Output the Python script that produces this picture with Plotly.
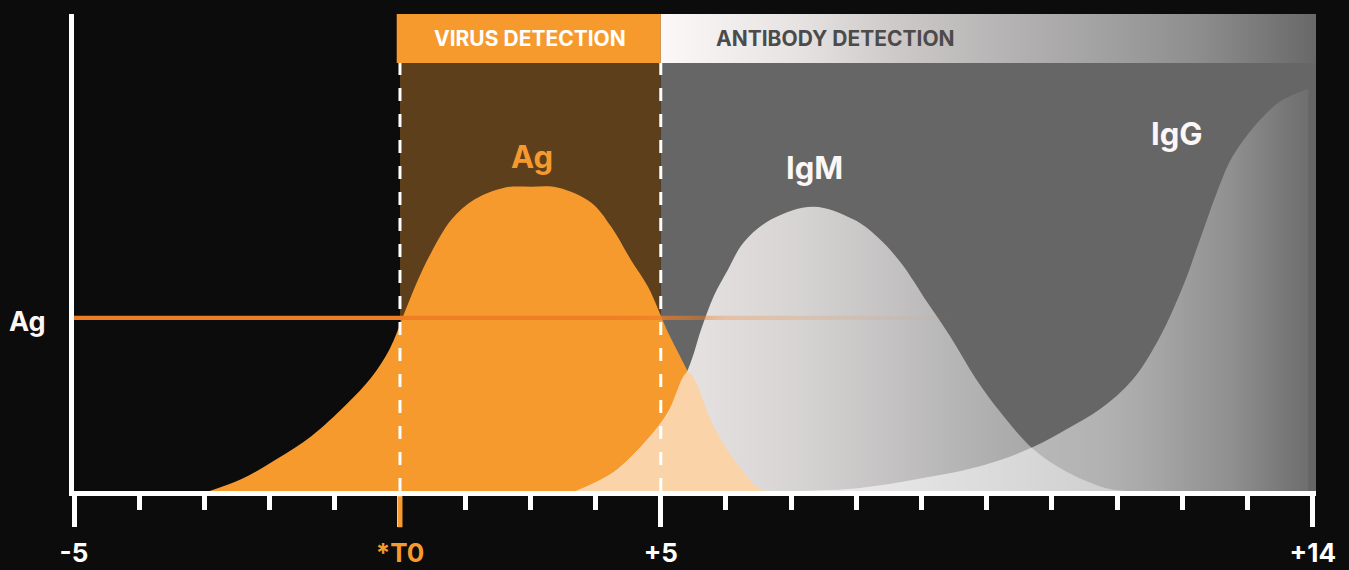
import numpy as np
import plotly.graph_objects as go

# ---------------- data ----------------
tick_vals = [0, 5, 9, 19]
tick_text = ["-5", "*T0", "+5", "+14"]
minor_step = 1

# Ag (antigen) curve
ag_x = [2.08, 2.57, 3.11, 3.64, 4.18, 4.56, 4.84, 5.07, 5.28, 5.48, 5.79, 6.14, 6.60,
        7.01, 7.43, 7.93, 8.24, 8.54, 8.80, 9.11, 9.42, 9.81, 10.12, 10.53, 10.81]
ag_y = [0, 2.5, 6.7, 11.5, 18.2, 23.8, 29.7, 37.4, 44.4, 50.0, 56.9, 61.1, 63.6,
        63.8, 63.6, 60.5, 55.4, 48.5, 42.9, 33.3, 24.9, 13.6, 6.7, 0.4, 0]

# IgM curve
igm_x = [7.70, 8.28, 8.80, 9.11, 9.46, 9.62, 9.81, 10.03, 10.27, 10.69, 11.34, 11.96,
         12.32, 12.68, 13.09, 13.44, 13.84, 14.21, 14.71, 15.23, 15.89, 16.27]
igm_y = [0, 4.0, 10.9, 16.5, 27.0, 33.9, 40.8, 46.4, 52.1, 56.9, 59.6, 56.9,
         53.3, 47.9, 39.5, 32.4, 23.4, 16.5, 8.8, 4.0, 0.4, 0]

# IgG curve
igg_x = [10.99, 12.02, 12.94, 13.95, 14.71, 15.23, 15.74, 16.24, 16.66, 17.01, 17.27,
         17.53, 17.77, 18.19, 18.54, 18.93]
igg_y = [0, 0.6, 2.5, 5.4, 9.2, 13.0, 17.2, 23.4, 32.4, 42.9, 52.7,
         62.6, 70.1, 77.8, 82.0, 84.3]

phase_x = [5, 9, 19.05]        # virus detection start, antibody detection start, end
header_y = [89.75, 100]         # header band
ag_cutoff_y = 36.3              # Ag detection threshold
ag_cutoff_x = [0, 13.6]

# ---------------- style ----------------
ORANGE = "#F79A2E"
LINE_OR = "238,125,36"
BROWN = "#5E3F1B"
GRAY = "#666666"
PEACH = "#FBD3A8"
BG = "#0c0c0c"
FONT = "Inter, Lato, sans-serif"
SPL = dict(width=0, shape="spline", smoothing=1.0)

fig = go.Figure()

# antibody header (gradient)
fig.add_trace(go.Scatter(
    x=[phase_x[1], phase_x[2], phase_x[2], phase_x[1]],
    y=[header_y[0], header_y[0], header_y[1], header_y[1]],
    mode="lines", line=dict(width=0), fill="toself",
    fillgradient=dict(type="horizontal", start=phase_x[1], stop=phase_x[2],
                      colorscale=[[0, "#fdf8f8"], [0.215, "#e6e2e2"], [0.367, "#ccc8c8"],
                                  [0.519, "#b6b4b4"], [0.671, "#a3a2a2"], [0.823, "#8d8d8d"],
                                  [0.915, "#7a7a7a"], [1, "#686868"]]),
    hoverinfo="skip", showlegend=False))

# Ag
fig.add_trace(go.Scatter(x=ag_x, y=ag_y, mode="lines", line=SPL,
                         fill="tozeroy", fillcolor=ORANGE, hoverinfo="skip", showlegend=False))

# IgM
fig.add_trace(go.Scatter(
    x=igm_x, y=igm_y, mode="lines", line=SPL,
    fill="tozeroy",
    fillgradient=dict(type="horizontal", start=igm_x[0], stop=igm_x[-1],
                      colorscale=[[0, "#ece8e8"], [0.223, "#e5e0e0"], [0.402, "#d6d3d3"],
                                  [0.58, "#c2c0c0"], [0.759, "#adadad"], [1, "#9c9c9c"]]),
    hoverinfo="skip", showlegend=False))

# Ag / IgM overlap
ag_xa, ag_ya = np.array(ag_x), np.array(ag_y)
igm_xa, igm_ya = np.array(igm_x), np.array(igm_y)
peak = int(np.argmax(ag_ya))
after = np.arange(peak, len(ag_xa))
below = after[ag_ya[after] <= np.interp(ag_xa[after], igm_xa, igm_ya)]
cross = below[0]
ov_x = list(igm_xa[igm_xa < ag_xa[cross]]) + list(ag_xa[cross:])
ov_y = list(igm_ya[igm_xa < ag_xa[cross]]) + list(ag_ya[cross:])
fig.add_trace(go.Scatter(x=ov_x, y=ov_y, mode="lines", line=SPL,
                         fill="toself", fillcolor=PEACH, hoverinfo="skip", showlegend=False))

# IgG
fig.add_trace(go.Scatter(
    x=igg_x, y=igg_y, mode="lines", line=SPL,
    fill="tozeroy",
    fillgradient=dict(type="horizontal", start=igg_x[0], stop=19.0,
                      colorscale=[[0, "rgba(255,255,255,0.6)"], [0.40, "rgba(255,255,255,0.55)"],
                                  [0.593, "rgba(255,255,255,0.5)"], [0.688, "rgba(255,255,255,0.43)"],
                                  [0.784, "rgba(255,255,255,0.33)"], [0.847, "rgba(255,255,255,0.27)"],
                                  [0.956, "rgba(255,255,255,0.10)"], [1, "rgba(255,255,255,0.05)"]]),
    hoverinfo="skip", showlegend=False))

# Ag threshold line (fading)
hw = 0.45
fig.add_trace(go.Scatter(
    x=[ag_cutoff_x[0], ag_cutoff_x[1], ag_cutoff_x[1], ag_cutoff_x[0]],
    y=[ag_cutoff_y - hw, ag_cutoff_y - hw, ag_cutoff_y + hw, ag_cutoff_y + hw],
    mode="lines", line=dict(width=0), fill="toself",
    fillgradient=dict(type="horizontal", start=ag_cutoff_x[0], stop=ag_cutoff_x[1],
                      colorscale=[[0, f"rgba({LINE_OR},1)"], [0.588, f"rgba({LINE_OR},1)"],
                                  [0.662, f"rgba({LINE_OR},0.75)"], [0.735, f"rgba({LINE_OR},0.3)"],
                                  [0.882, f"rgba({LINE_OR},0.12)"], [1, f"rgba({LINE_OR},0)"]]),
    hoverinfo="skip", showlegend=False))

shapes = [
    dict(type="rect", xref="x", yref="y", x0=phase_x[0], x1=phase_x[1], y0=0, y1=header_y[0],
         fillcolor=BROWN, line=dict(width=0), layer="below"),
    dict(type="rect", xref="x", yref="y", x0=phase_x[1], x1=phase_x[2], y0=0, y1=header_y[0],
         fillcolor=GRAY, line=dict(width=0), layer="below"),
    dict(type="rect", xref="x", yref="y", x0=phase_x[0] - 0.05, x1=phase_x[1], y0=header_y[0], y1=header_y[1],
         fillcolor=ORANGE, line=dict(width=0), layer="below"),
]
for xv in phase_x[:2]:
    shapes.append(dict(type="line", xref="x", yref="y", x0=xv, x1=xv, y0=0, y1=header_y[0],
                       line=dict(color="white", width=3, dash="13px,13px"), layer="above"))
# orange T0 tick
shapes.append(dict(type="line", xref="x", yref="paper", x0=tick_vals[1], x1=tick_vals[1],
                   y0=-0.011, y1=-0.076, line=dict(color=ORANGE, width=5), layer="above"))

ticktext = [t if t != "*T0" else f'<span style="color:{ORANGE}">{t}</span>' for t in tick_text]

ann = [
    dict(text="VIRUS DETECTION", x=(phase_x[0] + phase_x[1]) / 2, y=94.9, font=dict(size=21, color="white")),
    dict(text="ANTIBODY DETECTION", x=11.68, y=94.9, font=dict(size=21, color="#4b4b4b")),
    dict(text="Ag", x=7.03, y=70.1, font=dict(size=31, color=ORANGE)),
    dict(text="IgM", x=11.36, y=67.8, font=dict(size=31, color="#fdf6f6")),
    dict(text="IgG", x=16.92, y=74.9, font=dict(size=31, color="#fdf6f6")),
]
annotations = []
for a in ann:
    a["font"].update(family=FONT, weight="bold")
    annotations.append(dict(xref="x", yref="y", showarrow=False, xanchor="center", yanchor="middle", **a))
annotations.append(dict(text="Ag", xref="paper", yref="y", x=-0.0378, y=35.5, showarrow=False,
                        xanchor="center", yanchor="middle",
                        font=dict(family=FONT, weight="bold", size=27, color="#fdf6f6")))

fig.update_layout(
    width=1349, height=570,
    margin=dict(l=74, r=33, t=14, b=79, pad=0, autoexpand=False),
    paper_bgcolor=BG, plot_bgcolor="rgba(0,0,0,0)",
    shapes=shapes, annotations=annotations,
    showlegend=False,
    xaxis=dict(range=[0, phase_x[2]], showgrid=False, zeroline=False, automargin=False,
               showline=True, linecolor="white", linewidth=5,
               tickmode="array", tickvals=tick_vals, ticktext=ticktext,
               ticks="outside", ticklen=31, tickwidth=5, tickcolor="white",
               minor=dict(dtick=minor_step, tick0=0, ticks="outside", ticklen=14, tickwidth=5,
                          tickcolor="white", showgrid=False),
               tickfont=dict(family=FONT, size=26, color="white", weight="bold"),
               ticklabelstandoff=4, fixedrange=True),
    yaxis=dict(range=[0, 100], showgrid=False, zeroline=False, showticklabels=False, automargin=False,
               showline=True, linecolor="white", linewidth=5, ticks="", fixedrange=True),
)

fig.write_html("out.html", config={"displayModeBar": False},
               post_script="document.body.style.margin='0px';document.body.style.background='#0c0c0c';")
